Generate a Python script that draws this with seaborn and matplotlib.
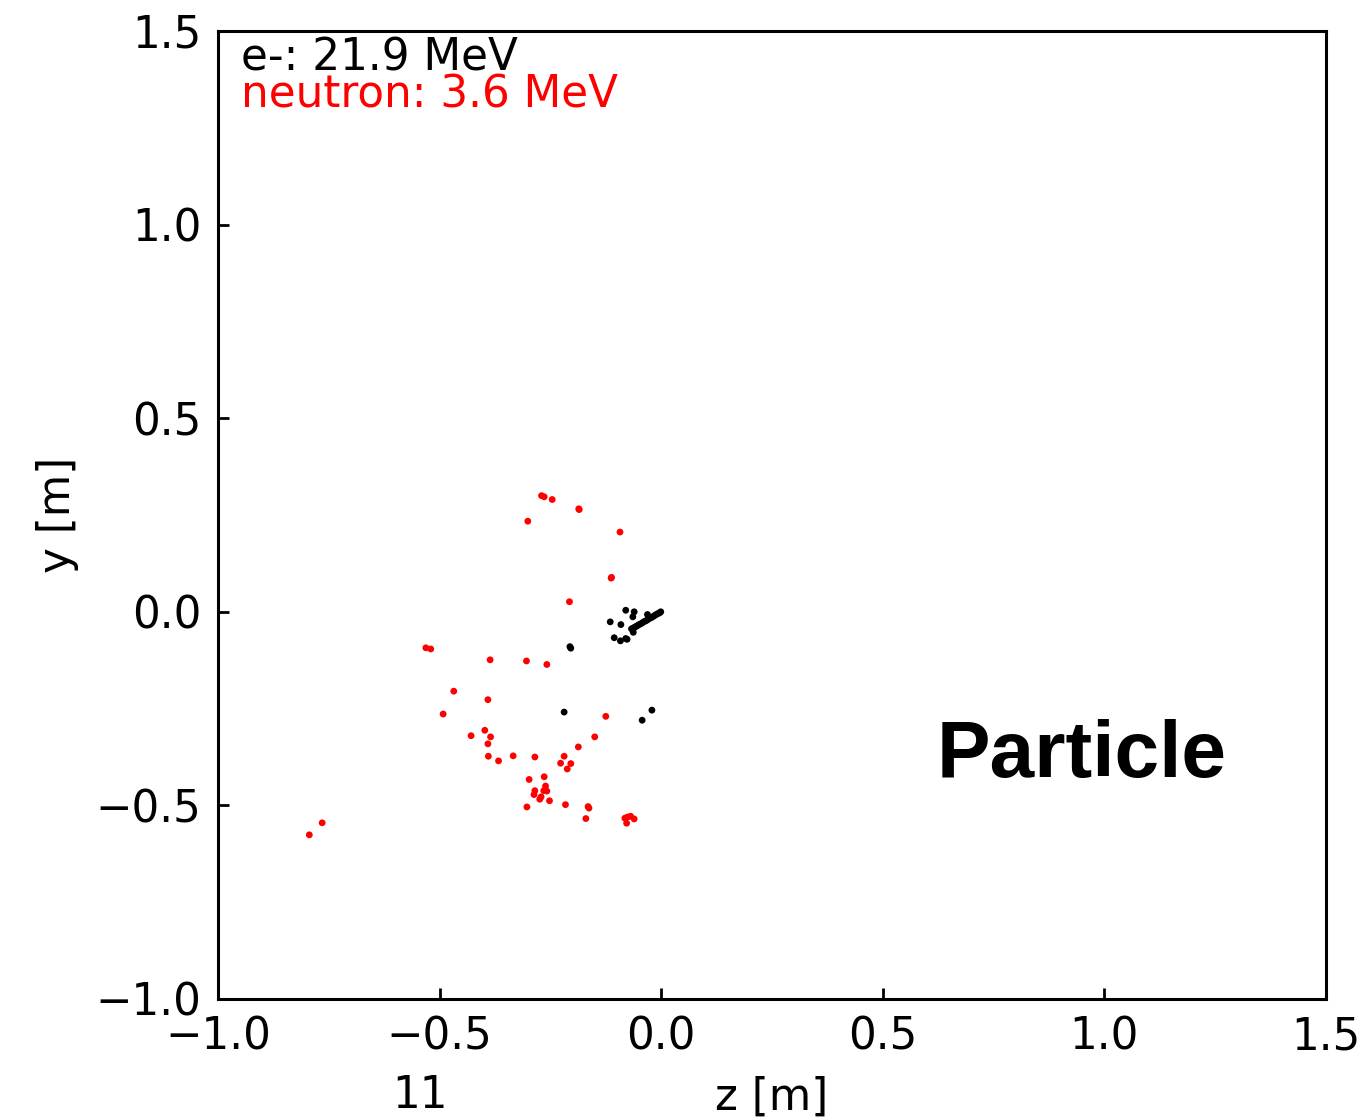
import numpy as np
import pandas as pd
import matplotlib
matplotlib.use("Agg")
import matplotlib.pyplot as plt
import seaborn as sns

# Hit positions (z, y) in metres for each particle species
electron_z = [-0.080, -0.061, -0.064, -0.031, -0.115, -0.091, -0.063, -0.106,
              -0.092, -0.077, -0.080, -0.206, -0.204, -0.219, -0.021, -0.043,
              -0.067, -0.063, -0.060, -0.057, -0.054, -0.050, -0.046, -0.042,
              -0.038, -0.034, -0.030, -0.026, -0.022, -0.018, -0.014, -0.010,
              -0.006, -0.003, -0.001]
electron_y = [0.004, 0.000, -0.013, -0.007, -0.026, -0.033, -0.053, -0.067,
              -0.075, -0.071, -0.069, -0.090, -0.094, -0.259, -0.254, -0.280,
              -0.044, -0.042, -0.040, -0.038, -0.036, -0.033, -0.031, -0.028,
              -0.025, -0.023, -0.020, -0.017, -0.015, -0.012, -0.009, -0.006,
              -0.004, -0.002, 0.000]

neutron_z = [-0.270, -0.264, -0.246, -0.185, -0.301, -0.093, -0.113, -0.207,
             -0.531, -0.520, -0.386, -0.304, -0.258, -0.468, -0.391, -0.492,
             -0.125, -0.150, -0.429, -0.398, -0.385, -0.391, -0.187, -0.390,
             -0.367, -0.334, -0.285, -0.219, -0.227, -0.204, -0.212, -0.298,
             -0.264, -0.261, -0.265, -0.258, -0.285, -0.287, -0.271, -0.274,
             -0.252, -0.303, -0.216, -0.163, -0.170, -0.082, -0.076, -0.069,
             -0.061, -0.078, -0.765, -0.794, -0.186, -0.112, -0.165]
neutron_y = [0.300, 0.297, 0.290, 0.264, 0.234, 0.206, 0.087, 0.026,
             -0.093, -0.096, -0.124, -0.127, -0.136, -0.205, -0.227, -0.264,
             -0.270, -0.323, -0.320, -0.306, -0.323, -0.341, -0.349, -0.373,
             -0.385, -0.372, -0.375, -0.373, -0.391, -0.392, -0.406, -0.433,
             -0.426, -0.450, -0.462, -0.463, -0.462, -0.472, -0.478, -0.484,
             -0.488, -0.504, -0.498, -0.507, -0.534, -0.533, -0.530, -0.528,
             -0.535, -0.546, -0.545, -0.576, 0.266, 0.089, -0.503]

species = ["e-", "neutron"]
energies_mev = [21.9, 3.6]
colors = ["black", "red"]
event_label = "11"
panel_label = "Particle"

z_ticks = [-1.0, -0.5, 0.0, 0.5, 1.0, 1.5]
y_ticks = [-1.0, -0.5, 0.0, 0.5, 1.0, 1.5]

hits = pd.DataFrame({
    "z": electron_z + neutron_z,
    "y": electron_y + neutron_y,
    "particle": ["e-"] * len(electron_z) + ["neutron"] * len(neutron_z),
})

sns.set_theme(style="ticks")
plt.rcParams["font.family"] = ["DejaVu Sans"]
plt.rcParams.update({
    "xtick.direction": "in",
    "ytick.direction": "in",
    "text.color": "black",
    "axes.labelcolor": "black",
    "xtick.color": "black",
    "ytick.color": "black",
    "axes.edgecolor": "black",
})

fig = plt.figure(figsize=(6.79, 5.585), dpi=200)
ax = fig.add_axes([218 / 1358, 1 - 999 / 1117, 1108 / 1358, 968 / 1117])

sns.scatterplot(data=hits, x="z", y="y", hue="particle",
                palette=dict(zip(species, colors)), hue_order=species,
                s=6, linewidth=0, legend=False, ax=ax)

ax.set_xlim(-1.0, 1.5)
ax.set_ylim(-1.0, 1.5)
ax.set_xticks(z_ticks)
ax.set_yticks(y_ticks)
ax.tick_params(axis="both", labelsize=15.7, length=4, width=1.0, pad=6,
               top=False, right=False)
for sp in ax.spines.values():
    sp.set_linewidth(1.1)

ax.set_xlabel("z [m]", fontsize=15.7, labelpad=6)
ax.set_ylabel("y [m]", fontsize=15.7, labelpad=6)

# Energy summary per species in the top-left corner
ys = [0.9587, 0.9205]
for name, e, c, yy in zip(species, energies_mev, colors, ys):
    ax.text(0.021, yy, f"{name}: {e} MeV", color=c, fontsize=15.7,
            transform=ax.transAxes, ha="left", va="baseline")

ax.text(0.910, 0.229, panel_label, transform=ax.transAxes, ha="right",
        va="baseline", fontsize=28.9, fontweight="bold", color="black",
        family=["Liberation Sans", "DejaVu Sans"])

fig.text(420 / 1358, 1 - 1095 / 1117, event_label, ha="center", va="center",
         fontsize=15.7)

fig.savefig("out.png", dpi=200)
